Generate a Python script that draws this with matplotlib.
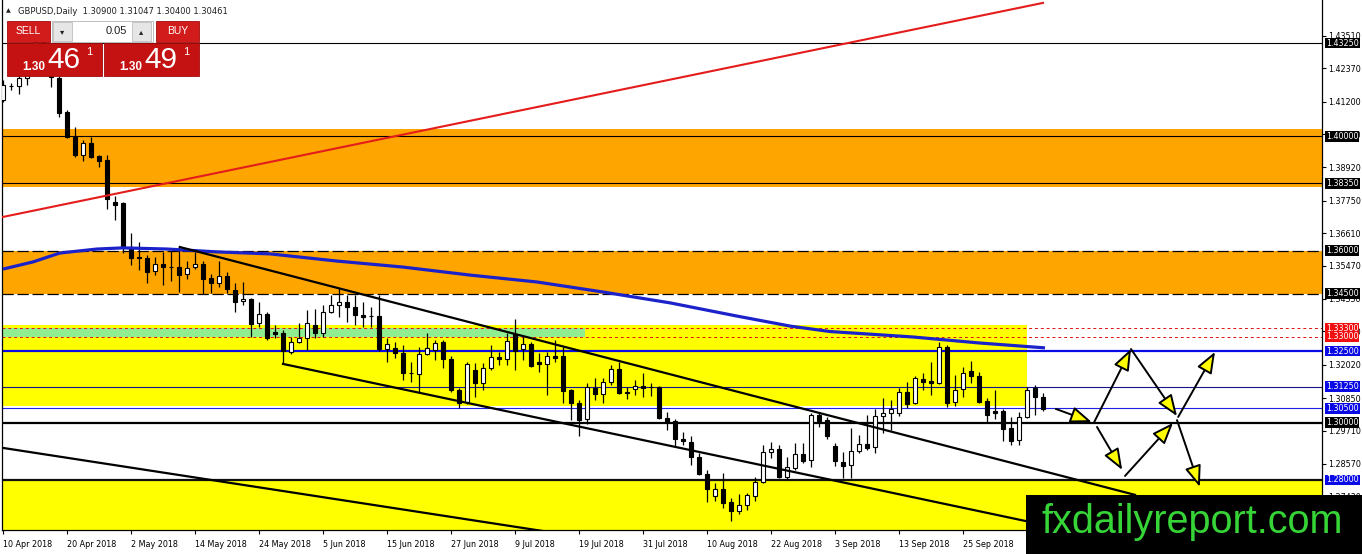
import numpy as np
import matplotlib
matplotlib.use("Agg")
import matplotlib.pyplot as plt
from matplotlib.patches import Rectangle, FancyArrowPatch
from matplotlib.transforms import blended_transform_factory

# GBPUSD daily bars, index 0 = 10 Apr 2018
opens = [1.4126, 1.4176, 1.4175, 1.4203, 1.4240, 1.4330, 1.4290, 1.4203, 1.4084, 1.3997,
         1.3934, 1.3976, 1.3931, 1.3917, 1.3770, 1.3767, 1.3613, 1.3577, 1.3575, 1.3529,
         1.3554, 1.3545, 1.3543, 1.3519, 1.3543, 1.3554, 1.3505, 1.3487, 1.3512, 1.3463,
         1.3424, 1.3432, 1.3348, 1.3379, 1.3316, 1.3313, 1.3247, 1.3282, 1.3296, 1.3341,
         1.3313, 1.3386, 1.3411, 1.3421, 1.3404, 1.3376, 1.3373, 1.3372, 1.3257, 1.3261,
         1.3243, 1.3175, 1.3170, 1.3240, 1.3254, 1.3282, 1.3222, 1.3114, 1.3072, 1.3184,
         1.3138, 1.3191, 1.3229, 1.3222, 1.3309, 1.3257, 1.3275, 1.3210, 1.3205, 1.3233,
         1.3233, 1.3114, 1.3069, 1.3013, 1.3121, 1.3100, 1.3142, 1.3187, 1.3107, 1.3118,
         1.3128, 1.3126, 1.3124, 1.3016, 1.3006, 1.2943, 1.2933, 1.2880, 1.2821, 1.2744,
         1.2768, 1.2723, 1.2692, 1.2713, 1.2744, 1.2793, 1.2898, 1.2908, 1.2810, 1.2842,
         1.2891, 1.2870, 1.3027, 1.3009, 1.2919, 1.2863, 1.2852, 1.2901, 1.2926, 1.2915,
         1.3023, 1.3034, 1.3034, 1.3107, 1.3069, 1.3152, 1.3144, 1.3138, 1.3264, 1.3072,
         1.3117, 1.3180, 1.3163, 1.3076, 1.3039, 1.3041, 1.2981, 1.2940, 1.3020, 1.3121,
         1.3090]
highs = [1.4196, 1.4185, 1.4230, 1.4290, 1.4340, 1.4377, 1.4300, 1.4210, 1.4091, 1.4032,
         1.3987, 1.3997, 1.3934, 1.3934, 1.3791, 1.3770, 1.3662, 1.3631, 1.3586, 1.3578,
         1.3596, 1.3599, 1.3613, 1.3564, 1.3596, 1.3564, 1.3519, 1.3564, 1.3526, 1.3487,
         1.3491, 1.3435, 1.3421, 1.3386, 1.3341, 1.3323, 1.3299, 1.3348, 1.3393, 1.3397,
         1.3411, 1.3446, 1.3470, 1.3446, 1.3446, 1.3421, 1.3404, 1.3446, 1.3296, 1.3282,
         1.3271, 1.3212, 1.3264, 1.3313, 1.3289, 1.3289, 1.3233, 1.3121, 1.3210, 1.3208,
         1.3208, 1.3271, 1.3247, 1.3313, 1.3362, 1.3299, 1.3282, 1.3243, 1.3247, 1.3289,
         1.3264, 1.3118, 1.3079, 1.3138, 1.3156, 1.3156, 1.3201, 1.3212, 1.3124, 1.3149,
         1.3173, 1.3138, 1.3128, 1.3037, 1.3013, 1.2967, 1.2954, 1.2894, 1.2835, 1.2789,
         1.2824, 1.2737, 1.2751, 1.2754, 1.2810, 1.2922, 1.2933, 1.2922, 1.2880, 1.2929,
         1.2929, 1.3034, 1.3037, 1.3020, 1.2929, 1.2898, 1.2981, 1.2957, 1.3027, 1.3048,
         1.3086, 1.3079, 1.3121, 1.3142, 1.3163, 1.3173, 1.3212, 1.3282, 1.3271, 1.3166,
         1.3194, 1.3215, 1.3177, 1.3086, 1.3114, 1.3048, 1.3020, 1.3037, 1.3124, 1.3131,
         1.3105]
lows = [1.4119, 1.4161, 1.4147, 1.4180, 1.4230, 1.4260, 1.4172, 1.4067, 1.3994, 1.3927,
        1.3913, 1.3924, 1.3892, 1.3746, 1.3707, 1.3592, 1.3550, 1.3533, 1.3487, 1.3515,
        1.3480, 1.3494, 1.3456, 1.3501, 1.3536, 1.3449, 1.3452, 1.3473, 1.3452, 1.3386,
        1.3411, 1.3299, 1.3334, 1.3289, 1.3296, 1.3205, 1.3240, 1.3278, 1.3254, 1.3296,
        1.3299, 1.3383, 1.3369, 1.3351, 1.3341, 1.3334, 1.3334, 1.3250, 1.3212, 1.3226,
        1.3149, 1.3142, 1.3107, 1.3236, 1.3219, 1.3191, 1.3107, 1.3051, 1.3066, 1.3090,
        1.3114, 1.3184, 1.3201, 1.3201, 1.3184, 1.3219, 1.3194, 1.3177, 1.3097, 1.3212,
        1.3069, 1.3009, 1.2954, 1.2995, 1.3079, 1.3069, 1.3131, 1.3100, 1.3083, 1.3097,
        1.3090, 1.3093, 1.3013, 1.2974, 1.2915, 1.2922, 1.2852, 1.2817, 1.2723, 1.2727,
        1.2702, 1.2657, 1.2681, 1.2695, 1.2727, 1.2789, 1.2877, 1.2807, 1.2800, 1.2835,
        1.2859, 1.2845, 1.2985, 1.2943, 1.2849, 1.2807, 1.2807, 1.2894, 1.2905, 1.2894,
        1.2964, 1.2974, 1.3023, 1.3051, 1.3065, 1.3114, 1.3097, 1.3135, 1.3055, 1.3058,
        1.3090, 1.3138, 1.3069, 1.3002, 1.3013, 1.2936, 1.2922, 1.2922, 1.3016, 1.3027,
        1.3040]
closes = [1.4178, 1.4174, 1.4203, 1.4240, 1.4330, 1.4290, 1.4205, 1.4081, 1.3997, 1.3934,
          1.3976, 1.3927, 1.3913, 1.3781, 1.3760, 1.3613, 1.3575, 1.3573, 1.3526, 1.3554,
          1.3543, 1.3542, 1.3515, 1.3540, 1.3554, 1.3501, 1.3487, 1.3512, 1.3466, 1.3421,
          1.3432, 1.3344, 1.3379, 1.3296, 1.3309, 1.3250, 1.3282, 1.3296, 1.3348, 1.3313,
          1.3386, 1.3411, 1.3421, 1.3404, 1.3376, 1.3369, 1.3371, 1.3257, 1.3275, 1.3243,
          1.3173, 1.3172, 1.3240, 1.3261, 1.3278, 1.3222, 1.3114, 1.3069, 1.3206, 1.3138,
          1.3191, 1.3229, 1.3222, 1.3285, 1.3250, 1.3275, 1.3198, 1.3206, 1.3233, 1.3226,
          1.3110, 1.3069, 1.3009, 1.3124, 1.3100, 1.3142, 1.3187, 1.3104, 1.3104, 1.3128,
          1.3121, 1.3123, 1.3016, 1.3002, 1.2943, 1.2936, 1.2880, 1.2821, 1.2768, 1.2768,
          1.2720, 1.2692, 1.2713, 1.2747, 1.2793, 1.2898, 1.2908, 1.2810, 1.2845, 1.2891,
          1.2866, 1.3027, 1.3006, 1.2954, 1.2866, 1.2849, 1.2901, 1.2926, 1.2912, 1.3023,
          1.3034, 1.3048, 1.3107, 1.3065, 1.3156, 1.3142, 1.3140, 1.3264, 1.3069, 1.3114,
          1.3173, 1.3163, 1.3072, 1.3027, 1.3035, 1.2978, 1.2936, 1.3020, 1.3114, 1.3090,
          1.3046]

date_labels = ["10 Apr 2018", "20 Apr 2018", "2 May 2018", "14 May 2018", "24 May 2018",
               "5 Jun 2018", "15 Jun 2018", "27 Jun 2018", "9 Jul 2018", "19 Jul 2018",
               "31 Jul 2018", "10 Aug 2018", "22 Aug 2018", "3 Sep 2018", "13 Sep 2018",
               "25 Sep 2018"]
date_step = 8
price_ticks = [1.43510, 1.42370, 1.41200, 1.40060, 1.38920, 1.37750, 1.36610, 1.35470,
               1.34330, 1.33190, 1.32020, 1.30850, 1.29710, 1.28570, 1.27430]

# horizontal levels with their price tags
levels = [1.4325, 1.4000, 1.3835, 1.3600, 1.3450, 1.3330, 1.3300, 1.3250, 1.3125, 1.3050,
          1.3000, 1.2800]

# zones (price ranges), bar-index spans where they are not full width
orange_zones = [(1.3823, 1.4025), (1.3450, 1.3600)]
yellow_zone = (1.3058, 1.3341)
yellow_span = (-1, 128)
green_zone = (1.3299, 1.3330)
green_span = (-1, 72.75)
low_zone = (1.2500, 1.2800)

# 200-day MA read at a few bars
ma_idx = [0, 3.75, 7.1, 11.75, 15, 20.5, 26.75, 33.4, 41.75, 50, 58.4, 66.75, 75, 83.4,
          91.75, 98.4, 103.4, 113.75, 122.1, 130.25]
ma_val = [1.3536, 1.3561, 1.3592, 1.3606, 1.3610, 1.3606, 1.3596, 1.3589, 1.3564, 1.3543,
          1.3515, 1.3491, 1.3456, 1.3418, 1.3372, 1.3337, 1.3318, 1.3299, 1.3278, 1.3261]

# trend lines: (idx, price) endpoints
red_line = [(0, 1.3718), (130, 1.4465)]
chan_upper = [(22.1, 1.3613), (141.5, 1.2748)]
chan_lower = [(35, 1.3205), (131, 1.2638)]
long_lower = [(-0.5, 1.2914), (70, 1.2611)]

# scenario arrows
arrows = [((131.6, 1.3048), (136.1, 1.3002)),
          ((136.4, 1.3002), (141.0, 1.3257)),
          ((141.0, 1.3257), (146.75, 1.3023)),
          ((146.9, 1.3020), (151.5, 1.3247)),
          ((136.75, 1.2985), (139.9, 1.2835)),
          ((140.25, 1.2814), (146.25, 1.2999)),
          ((146.75, 1.3009), (149.6, 1.2776))]

W, H = 1362, 554
FS = 5.8  # terminal label size
fig = plt.figure(figsize=(W / 100, H / 100), dpi=100)
ax = fig.add_axes([2 / W, 24 / H, 1320 / W, 530 / H])
ax.set_xlim(-0.125, 164.875)
ax.set_ylim(1.26254, 1.44751)

for lo, hi in orange_zones:
    ax.axhspan(lo, hi, color="#ffa500", lw=0, zorder=0.5)
ax.add_patch(Rectangle((yellow_span[0], yellow_zone[0]), yellow_span[1] - yellow_span[0],
                       yellow_zone[1] - yellow_zone[0], fc="#ffff00", lw=0, zorder=0.6))
ax.add_patch(Rectangle((green_span[0], green_zone[0]), green_span[1] - green_span[0],
                       green_zone[1] - green_zone[0], fc="#90ee90", lw=0, zorder=0.7))
ax.axhspan(low_zone[0], low_zone[1], color="#ffff00", lw=0, zorder=0.5)

level_style = {
    1.4325: ("black", "-", 0.8, "black"),
    1.4000: ("black", "-", 0.8, "black"),
    1.3835: ("black", "-", 0.8, "black"),
    1.3600: ("black", (0, (9, 3)), 0.9, "black"),
    1.3450: ("black", (0, (9, 3)), 0.9, "black"),
    1.3330: ("#e01010", (0, (3, 3)), 0.7, "#f00f0f"),
    1.3300: ("#e01010", (0, (3, 3)), 0.7, "#f00f0f"),
    1.3250: ("#0a0ae6", "-", 1.6, "#0a0ae6"),
    1.3125: ("#14148c", "-", 0.8, "#0a0ae6"),
    1.3050: ("#1e1ee6", "-", 0.8, "#0a0ae6"),
    1.3000: ("black", "-", 1.6, "black"),
    1.2800: ("#101010", "-", 1.6, "#0a0ae6"),
}
tag_tf = blended_transform_factory(ax.transAxes, ax.transData)
for lv in levels:
    col, ls, lw, tag = level_style[lv]
    ax.axhline(lv, color=col, ls=ls, lw=lw, zorder=1)
    ax.text(1 + 4 / 1320, lv, f"{lv:.5f}", transform=tag_tf, ha="left", va="center",
            fontsize=FS, color="white", clip_on=False, zorder=20,
            bbox=dict(boxstyle="square,pad=0.12", fc=tag, ec="none"))

# candles
o, h, l, c = (np.array(v) for v in (opens, highs, lows, closes))
x = np.arange(len(o))
up = c >= o
body = np.maximum(np.abs(c - o), 0.00025)
base = np.minimum(o, c)
ax.vlines(x, l, h, color="black", lw=0.9, zorder=3)
ax.bar(x[up], body[up], bottom=base[up], width=0.62, color="white", edgecolor="black",
       lw=0.8, zorder=4)
ax.bar(x[~up], body[~up], bottom=base[~up], width=0.62, color="black", edgecolor="black",
       lw=0.8, zorder=4)

ax.plot(ma_idx, ma_val, color="#1c22c9", lw=2.3, zorder=5, solid_capstyle="butt")
for (x0, y0), (x1, y1) in (chan_upper, chan_lower, long_lower):
    ax.plot([x0, x1], [y0, y1], color="black", lw=1.6, zorder=5)
ax.plot(*zip(*red_line), color="#e41c1c", lw=1.5, zorder=5)

for a, b in arrows:
    ax.add_patch(FancyArrowPatch(a, b, arrowstyle="-|>,head_length=1.3,head_width=0.5",
                                 mutation_scale=10, fc="#ffff00", ec="black", lw=1.4,
                                 shrinkA=0, shrinkB=0, zorder=6))

# axes like the terminal: prices on the right, dates under the chart
ax.yaxis.tick_right()
ax.set_yticks(price_ticks)
ax.set_yticklabels([f"{v:.5f}" for v in price_ticks])
ax.set_xticks(range(0, date_step * len(date_labels), date_step))
ax.set_xticklabels(date_labels)
for t in ax.get_xticklabels():
    t.set_ha("left")
ax.tick_params(axis="both", direction="out", length=3, width=0.8, labelsize=FS, pad=1.5,
               colors="black")
ax.tick_params(axis="x", pad=4)
ax.spines["top"].set_visible(False)
for s in ("left", "right", "bottom"):
    ax.spines[s].set_linewidth(0.9)

# overlay in pixel coordinates: trade panel, header, watermark
ov = fig.add_axes([0, 0, 1, 1], zorder=10)
ov.set_xlim(0, W)
ov.set_ylim(H, 0)
ov.axis("off")
ov.set_facecolor("none")

ov.text(6, 11, "▲", fontsize=4.5, va="center", color="#202020")
ov.text(18, 11, "GBPUSD,Daily  1.30900 1.31047 1.30400 1.30461", fontsize=6.0,
        va="center", color="#202020")

red_btn, red_box = "#d21c1c", "#c41212"
for bx, label in ((7, "SELL"), (156, "BUY")):
    ov.add_patch(Rectangle((bx, 21), 43, 21, fc=red_btn, ec="#a00c0c", lw=0.6))
    ov.text(bx + 21.5, 31.5, label, color="white", fontsize=7.5, ha="center", va="center",
            family="Liberation Sans")
ov.add_patch(Rectangle((52, 21), 101, 21, fc="white", ec="#b4b4b4", lw=0.6))
ov.add_patch(Rectangle((53, 22), 19, 19, fc="#e6e6e6", ec="#b4b4b4", lw=0.5))
ov.add_patch(Rectangle((132, 22), 19, 19, fc="#e6e6e6", ec="#b4b4b4", lw=0.5))
ov.text(62.5, 31.5, "▾", fontsize=6, ha="center", va="center", color="#202020")
ov.text(141.5, 31.5, "▴", fontsize=6, ha="center", va="center", color="#202020")
ov.text(127, 31.5, "0.05", fontsize=8, ha="right", va="center", color="#202020",
        family="Liberation Sans")
for bx, big in ((7, "46"), (104, "49")):
    ov.add_patch(Rectangle((bx, 43), 95, 33, fc=red_box, ec="#a00c0c", lw=0.6))
    ov.text(bx + 15, 70, "1.30", color="white", fontsize=8.5, fontweight="bold",
            va="baseline", family="Liberation Sans")
    ov.text(bx + 40, 68.5, big, color="white", fontsize=21.5, va="baseline",
            family="Liberation Sans")
    ov.text(bx + 79, 55, "1", color="white", fontsize=8, va="baseline",
            family="Liberation Sans")

ov.add_patch(Rectangle((1026, 495), 340, 62, fc="black", lw=0))
ov.text(1041, 533, "fxdailyreport.com", fontsize=28.5, color="#36d436", va="baseline",
        ha="left", family="Liberation Sans")

fig.savefig("out.png", dpi=100)
